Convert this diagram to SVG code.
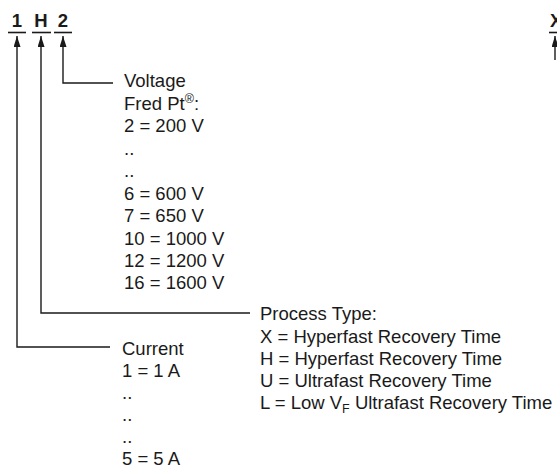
<svg xmlns="http://www.w3.org/2000/svg" width="557" height="470" viewBox="0 0 557 470">
<defs>
<marker id="ah" markerWidth="11" markerHeight="7" refX="11" refY="3.5" orient="auto" markerUnits="userSpaceOnUse" viewBox="0 0 11 7"><path d="M0,0 L11,3.5 L0,7 Z" fill="#1a1a1a"/></marker>
</defs>
<style>
text{font-family:"Liberation Sans",Arial,sans-serif;font-size:18.5px;fill:#1a1a1a}
.b{font-weight:bold}
.u{stroke:#1a1a1a;stroke-width:1.6;fill:none}
.c{stroke:#1a1a1a;stroke-width:1.4;fill:none}
</style>
<rect width="557" height="470" fill="#fff"/>
<g id="code">
<text class="b" x="17" y="27" text-anchor="middle">1</text>
<text class="b" x="41" y="27" text-anchor="middle">H</text>
<text class="b" x="63" y="27" text-anchor="middle">2</text>
<text class="b" x="550" y="27">X</text>
<line class="u" x1="8" y1="32.5" x2="26" y2="32.5"/>
<line class="u" x1="32" y1="32.5" x2="51" y2="32.5"/>
<line class="u" x1="54" y1="32.5" x2="72" y2="32.5"/>
<line class="u" x1="549" y1="32.5" x2="557" y2="32.5"/>
</g>
<g id="connectors">
<polyline class="c" points="110,347 17,347 17,36" marker-end="url(#ah)"/>
<polyline class="c" points="250,313 41,313 41,36" marker-end="url(#ah)"/>
<polyline class="c" points="113,83 63,83 63,36" marker-end="url(#ah)"/>
<polyline class="c" points="555,60 555,36" marker-end="url(#ah)"/>
</g>
<g id="voltage">
<text x="124" y="87">Voltage</text>
<text x="124" y="109.5">Fred Pt<tspan font-size="12.5" dy="-7">®</tspan><tspan dy="7">:</tspan></text>
<text x="124" y="132">2 = 200 V</text>
<text x="124" y="154.5">..</text>
<text x="124" y="177">..</text>
<text x="124" y="199.5">6 = 600 V</text>
<text x="124" y="222">7 = 650 V</text>
<text x="124" y="244.5">10 = 1000 V</text>
<text x="124" y="267">12 = 1200 V</text>
<text x="124" y="289">16 = 1600 V</text>
</g>
<g id="process">
<text x="260" y="320">Process Type:</text>
<text x="260" y="342.5">X = Hyperfast Recovery Time</text>
<text x="260" y="364.5">H = Hyperfast Recovery Time</text>
<text x="260" y="386.5">U = Ultrafast Recovery Time</text>
<text x="260" y="409">L = Low V<tspan font-size="12.5" dy="4">F</tspan><tspan dy="-4"> Ultrafast Recovery Time</tspan></text>
</g>
<g id="current">
<text x="122" y="355">Current</text>
<text x="122" y="377">1 = 1 A</text>
<text x="122" y="399">..</text>
<text x="122" y="421">..</text>
<text x="122" y="443">..</text>
<text x="122" y="465">5 = 5 A</text>
</g>
</svg>
